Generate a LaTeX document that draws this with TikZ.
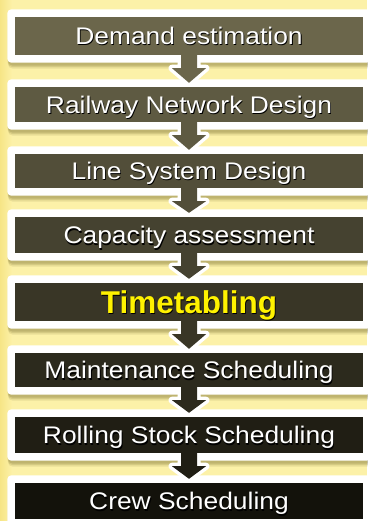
\documentclass[tikz,border=0pt]{standalone}
\usepackage{fontspec}
\setmainfont{Liberation Sans}[FakeStretch=1.1]
\newfontfamily\plainsans{Liberation Sans}
\usetikzlibrary{calc}
\pgfdeclarelayer{bglayer}
\pgfsetlayers{bglayer,main}
\definecolor{bgyellow}{HTML}{FCF1A8}
\definecolor{edgeyellow}{HTML}{F6E586}
\definecolor{shadowc}{HTML}{6B6020}
\definecolor{c1}{RGB}{107,102,75}
\definecolor{c2}{RGB}{94,90,66}
\definecolor{c3}{RGB}{82,78,57}
\definecolor{c4}{RGB}{69,66,48}
\definecolor{c5}{RGB}{57,54,38}
\definecolor{c6}{RGB}{44,42,29}
\definecolor{c7}{RGB}{32,30,20}
\definecolor{c8}{RGB}{19,18,11}
\newcommand\shd[1]{\makebox[0pt][l]{\kern0.8pt\raisebox{-1.4pt}{\textcolor{black}{#1}}}#1}
\newcommand\stagearrow[3]{%
  \path[fill=#3, preaction={draw=white, line width=7pt, line join=round}]
    ($(#1.south)+(-8,0)$) -- ($(#1.south)+(-8,13)$) -- ($(#1.south)+(-17,13)$)
    -- ($(#2.north)+(0,-4)$)
    -- ($(#1.south)+(17,13)$) -- ($(#1.south)+(8,13)$) -- ($(#1.south)+(8,0)$);}
\newcommand\stageframe[1]{%
  \foreach \s/\o in {6/0.12,4.5/0.16,3/0.2}{
    \fill[shadowc, opacity=\o, rounded corners=5pt]
      ($(#1.south west)+(-7.5+0.5,7.5+\s)$) rectangle ($(#1.north east)+(8.5,-7.5+\s)$);}
  \fill[white, rounded corners=4pt]
    ($(#1.south west)+(-7.5,7.5)$) rectangle ($(#1.north east)+(7.5,-7.5)$);}
\tikzset{
  x=1pt, y=-1pt,
  stagebox/.style={minimum width=348pt, inner sep=0pt, text=white,
    font=\fontsize{24}{24}\selectfont, text height=17.2pt, text depth=0pt}
}
\begin{document}
\begin{tikzpicture}
\useasboundingbox (0,0) rectangle (367,521);
\node[stagebox, fill=c1, minimum height=38pt] (b1) at (189,36) {\shd{Demand estimation}};
\node[stagebox, fill=c2, minimum height=35pt] (b2) at (189,104.5) {\shd{Railway Network Design}};
\node[stagebox, fill=c3, minimum height=34pt] (b3) at (189,171) {\shd{Line System Design}};
\node[stagebox, fill=c4, minimum height=36pt] (b4) at (189,235) {\shd{Capacity assessment}};
\node[stagebox, fill=c5, minimum height=38pt, text=yellow,
  font=\plainsans\bfseries\fontsize{31.5}{31.5}\selectfont, text height=22.5pt] (b5) at (189,302) {\shd{Timetabling}};
\node[stagebox, fill=c6, minimum height=34pt] (b6) at (189,370) {\shd{Maintenance Scheduling}};
\node[stagebox, fill=c7, minimum height=36pt] (b7) at (189,435) {\shd{Rolling Stock Scheduling}};
\node[stagebox, fill=c8, minimum height=36pt] (b8) at (189,501) {\shd{Crew Scheduling}};
\begin{pgfonlayer}{bglayer}
  \fill[bgyellow] (0,0) rectangle (367,521);
  \shade[left color=edgeyellow, right color=bgyellow] (0,0) rectangle (12,521);
  \foreach \b in {b1,b2,b3,b4,b5,b6,b7,b8}{\stageframe{\b}}
\end{pgfonlayer}
\stagearrow{b1}{b2}{c1}
\stagearrow{b2}{b3}{c2}
\stagearrow{b3}{b4}{c3}
\stagearrow{b4}{b5}{c4}
\stagearrow{b5}{b6}{c5}
\stagearrow{b6}{b7}{c6}
\stagearrow{b7}{b8}{c7}
\end{tikzpicture}
\end{document}
